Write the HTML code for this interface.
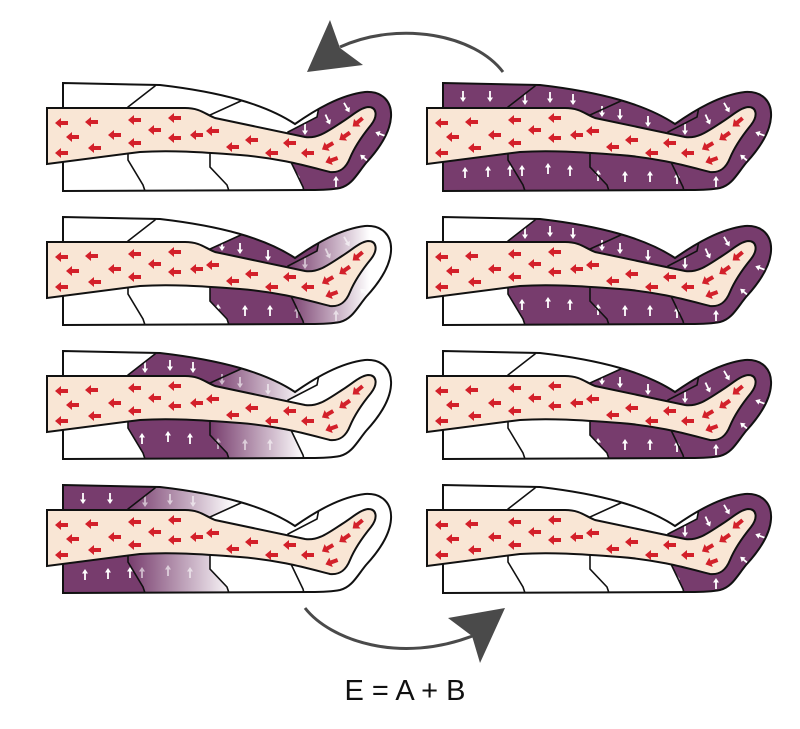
<!DOCTYPE html>
<html><head><meta charset="utf-8">
<style>html,body{margin:0;padding:0;background:#fff;width:800px;height:729px;overflow:hidden}</style>
</head><body>
<svg width="800" height="729" viewBox="0 0 800 729" xmlns="http://www.w3.org/2000/svg">
<defs>
<path id="sleeve" d="M63,83 L160,85 C220,92 265,104 295,124 C315,110 340,95 365,92 C383,91 392,102 391,117 C390,134 378,150 366,163 C357,174 352,185 340,188 C330,190 320,190 310,190 L63,191 Z"/>
<clipPath id="sc"><use href="#sleeve"/></clipPath>
<polygon id="chA" points="40,70 160,75 155,86 128,107 128,160 143,185 148,200 40,200"/>
<polygon id="chB" points="160,75 155,86 128,107 128,160 143,185 148,200 232,200 227,185 210,167 210,115 243,100 250,75"/>
<polygon id="chC" points="250,75 243,100 210,115 210,167 227,185 232,200 306,200 303,187 290,160 288,132 317,117 325,75"/>
<polygon id="chD" points="325,75 317,117 288,132 290,160 303,187 306,200 400,200 400,75"/>
<linearGradient id="gB" gradientUnits="userSpaceOnUse" x1="128" y1="0" x2="235" y2="0"><stop offset="0" stop-color="#773c6d"/><stop offset="1" stop-color="#fff"/></linearGradient>
<linearGradient id="gC" gradientUnits="userSpaceOnUse" x1="210" y1="0" x2="305" y2="0"><stop offset="0" stop-color="#773c6d"/><stop offset="1" stop-color="#fff"/></linearGradient>
<linearGradient id="gD" gradientUnits="userSpaceOnUse" x1="288" y1="0" x2="390" y2="0"><stop offset="0" stop-color="#773c6d"/><stop offset="0.8" stop-color="#fff"/></linearGradient>
<path id="leg" d="M47,108 L185,108 C200,108 205,114 215,118 L305,137 C318,139 328,131 342,122 C353,115 360,108 368,107 C377,107 378,116 371,125 C362,136 355,146 350,158 C346,168 340,173 330,172 C310,167 280,158 240,155 C200,152 170,150 140,152 L47,164 Z"/>
<path id="ra" d="M-7,0 L-1,-5 L-1,-2 L6,-2 L6,2 L-1,2 L-1,5 Z" fill="#d3202a"/>
<path id="wd" d="M0,5 L-3,0.5 L-0.9,0.5 L-0.9,-6 L0.9,-6 L0.9,0.5 L3,0.5 Z" fill="#fff"/>
<g id="reds">
<use href="#ra" x="62" y="123"/><use href="#ra" x="92" y="122"/><use href="#ra" x="135" y="120"/><use href="#ra" x="175" y="118"/>
<use href="#ra" x="73" y="137"/><use href="#ra" x="115" y="135"/><use href="#ra" x="155" y="130"/><use href="#ra" x="213" y="131"/>
<use href="#ra" x="62" y="153"/><use href="#ra" x="95" y="148"/><use href="#ra" x="135" y="143"/><use href="#ra" x="175" y="138"/><use href="#ra" x="197" y="135"/>
<use href="#ra" x="233" y="147"/><use href="#ra" x="252" y="140"/><use href="#ra" x="272" y="153"/><use href="#ra" x="290" y="143"/><use href="#ra" x="308" y="153"/>
<use href="#ra" transform="translate(332,160) rotate(-20)"/><use href="#ra" transform="translate(328,146) rotate(-30)"/><use href="#ra" transform="translate(345,136) rotate(-35)"/><use href="#ra" transform="translate(358,122) rotate(-40)"/>
</g>
<g id="wA"><use href="#wd" x="83" y="97"/><use href="#wd" x="110" y="97"/><use href="#wd" transform="translate(85,172) rotate(180)"/><use href="#wd" transform="translate(108,171) rotate(180)"/><use href="#wd" transform="translate(130,170) rotate(180)"/></g>
<g id="wB"><use href="#wd" x="145" y="100"/><use href="#wd" x="170" y="98"/><use href="#wd" x="193" y="100"/><use href="#wd" transform="translate(142,170) rotate(180)"/><use href="#wd" transform="translate(168,168) rotate(180)"/><use href="#wd" transform="translate(190,170) rotate(180)"/></g>
<g id="wC"><use href="#wd" x="222" y="112"/><use href="#wd" x="240" y="115"/><use href="#wd" x="268" y="122"/><use href="#wd" transform="translate(218,175) rotate(180)"/><use href="#wd" transform="translate(245,176) rotate(180)"/><use href="#wd" transform="translate(270,176) rotate(180)"/></g>
<g id="wD"><use href="#wd" x="305" y="130"/><use href="#wd" transform="translate(328,120) rotate(-25)"/><use href="#wd" transform="translate(347,108) rotate(-30)"/><use href="#wd" transform="translate(380,134) rotate(110)"/><use href="#wd" transform="translate(364,158) rotate(130)"/><use href="#wd" transform="translate(336,181) rotate(180)"/><use href="#wd" transform="translate(297,178) rotate(180)"/></g>
<g id="lines" fill="none" stroke="#111" stroke-width="1.6" clip-path="url(#sc)">
<polyline points="160,75 155,86 128,107 128,160 143,185 148,200"/>
<polyline points="250,75 243,100 210,115 210,167 227,185 232,200"/>
<polyline points="325,75 317,117 288,132 290,160 303,187 306,200"/>
</g>
<g id="top">
<use href="#lines"/>
<use href="#sleeve" fill="none" stroke="#111" stroke-width="2"/>
<use href="#leg" fill="#f9e6d5" stroke="#111" stroke-width="2"/>
<use href="#reds"/>
</g>
</defs>

<g>
<use href="#sleeve" fill="#fff"/>
<g clip-path="url(#sc)"><use href="#chD" fill="#773c6d"/></g>
<use href="#wD"/><use href="#top"/>
</g>
<g transform="translate(0,134)">
<use href="#sleeve" fill="#fff"/>
<g clip-path="url(#sc)"><use href="#chC" fill="#773c6d"/><use href="#chD" fill="url(#gD)"/></g>
<use href="#wC"/><g opacity="0.6"><use href="#wD"/></g><use href="#top"/>
</g>
<g transform="translate(0,268)">
<use href="#sleeve" fill="#fff"/>
<g clip-path="url(#sc)"><use href="#chB" fill="#773c6d"/><use href="#chC" fill="url(#gC)"/></g>
<use href="#wB"/><g opacity="0.6"><use href="#wC"/></g><use href="#top"/>
</g>
<g transform="translate(0,402)">
<use href="#sleeve" fill="#fff"/>
<g clip-path="url(#sc)"><use href="#chA" fill="#773c6d"/><use href="#chB" fill="url(#gB)"/></g>
<use href="#wA"/><g opacity="0.6"><use href="#wB"/></g><use href="#top"/>
</g>

<g transform="translate(380,0)">
<use href="#sleeve" fill="#773c6d"/>
<use href="#wA"/><use href="#wB"/><use href="#wC"/><use href="#wD"/><use href="#top"/>
</g>
<g transform="translate(380,134)">
<use href="#sleeve" fill="#fff"/>
<g clip-path="url(#sc)"><use href="#chB" fill="#773c6d"/><use href="#chC" fill="#773c6d"/><use href="#chD" fill="#773c6d"/></g>
<use href="#wB"/><use href="#wC"/><use href="#wD"/><use href="#top"/>
</g>
<g transform="translate(380,268)">
<use href="#sleeve" fill="#fff"/>
<g clip-path="url(#sc)"><use href="#chC" fill="#773c6d"/><use href="#chD" fill="#773c6d"/></g>
<use href="#wC"/><use href="#wD"/><use href="#top"/>
</g>
<g transform="translate(380,402)">
<use href="#sleeve" fill="#fff"/>
<g clip-path="url(#sc)"><use href="#chD" fill="#773c6d"/></g>
<use href="#wD"/><use href="#top"/>
</g>

<path d="M503,72 C475,35 400,20 340,47" fill="none" stroke="#4a4a4a" stroke-width="3"/>
<path d="M330,20 L307,72 L363,65 L340,48 Z" fill="#4a4a4a"/>
<path d="M305,608 C330,640 400,665 475,635" fill="none" stroke="#4a4a4a" stroke-width="3"/>
<path d="M448,618 L505,608 L480,663 L472,636 Z" fill="#4a4a4a"/>
<text x="405" y="700" text-anchor="middle" font-family="Liberation Sans, sans-serif" font-size="29" fill="#111">E = A + B</text>
</svg>
</body></html>
